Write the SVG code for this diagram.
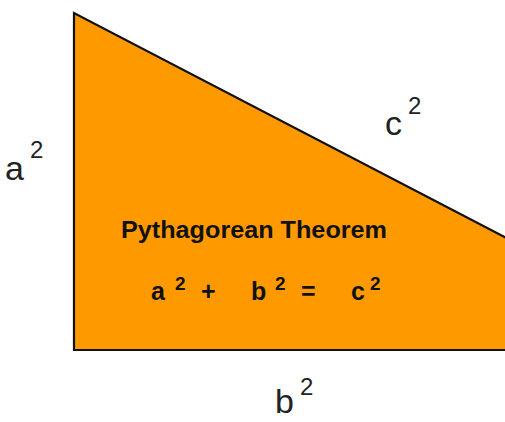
<svg xmlns="http://www.w3.org/2000/svg" width="505" height="422" viewBox="0 0 505 422">
<style>
.lbl{font-family:"Liberation Sans",Arial,sans-serif;fill:#222;}
.big{font-size:34px;}
.sup{font-size:24px;}
.eq{font-family:"Liberation Sans",Arial,sans-serif;font-weight:bold;fill:#111;}
.eqb{font-size:25px;}
.eqs{font-size:19px;}
</style>
<rect width="505" height="422" fill="#ffffff"/>
<g id="triangle">
<polygon points="74,13 74,350 722,350" fill="#FF9900" stroke="#111" stroke-width="2.2" stroke-linejoin="miter"/>
</g>
<g id="side-a">
<text class="lbl big" x="5" y="180">a</text>
<text class="lbl sup" x="30" y="158">2</text>
</g>
<g id="side-c">
<text class="lbl big" x="385" y="135">c</text>
<text class="lbl sup" x="408" y="114">2</text>
</g>
<g id="side-b">
<text class="lbl big" x="275" y="413">b</text>
<text class="lbl sup" x="300" y="395">2</text>
</g>
<g id="title">
<text class="eq" x="121" y="238" font-size="24" textLength="266" lengthAdjust="spacingAndGlyphs">Pythagorean Theorem</text>
</g>
<g id="equation">
<text class="eq eqb" x="151" y="300">a</text>
<text class="eq eqs" x="175" y="290">2</text>
<text class="eq eqb" x="201" y="300">+</text>
<text class="eq eqb" x="251" y="300">b</text>
<text class="eq eqs" x="275" y="290">2</text>
<text class="eq eqb" x="301" y="300">=</text>
<text class="eq eqb" x="351" y="300">c</text>
<text class="eq eqs" x="370" y="290">2</text>
</g>
</svg>
